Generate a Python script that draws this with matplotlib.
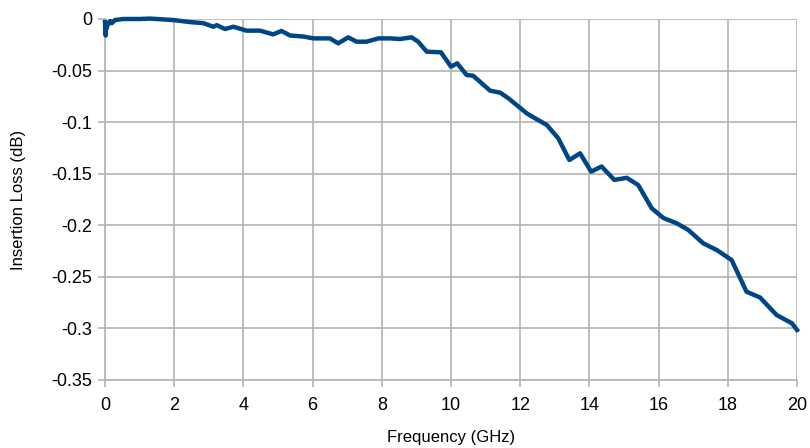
import matplotlib
matplotlib.use("Agg")
import matplotlib.pyplot as plt

# Insertion loss vs. frequency
freq_ghz = [0.0, 0.01, 0.02, 0.03, 0.05, 0.08, 0.1, 0.15, 0.2, 0.29, 0.53, 1.0, 1.3,
            1.97, 2.46, 2.84, 3.13, 3.23, 3.47, 3.71, 4.09, 4.48, 4.86, 5.1,
            5.35, 5.73, 6.02, 6.5, 6.74, 7.03, 7.27, 7.56, 7.9, 8.24, 8.53,
            8.86, 9.05, 9.3, 9.71, 10.0, 10.18, 10.45, 10.64, 11.13, 11.42,
            11.66, 12.19, 12.38, 12.77, 13.1, 13.42, 13.73, 14.05, 14.35,
            14.72, 15.08, 15.41, 15.8, 16.14, 16.52, 16.86, 17.29, 17.68,
            18.11, 18.54, 18.93, 19.41, 19.85, 20.0]
loss_db = [-0.003, -0.012, -0.016, -0.006, -0.009, -0.004, -0.005, -0.002, -0.004, -0.001,
           0.0, 0.0, 0.0004, -0.001, -0.003, -0.004, -0.0075, -0.006, -0.0097,
           -0.0075, -0.0113, -0.0113, -0.0149, -0.0116, -0.016, -0.017,
           -0.0188, -0.0188, -0.0236, -0.0178, -0.022, -0.022, -0.0188,
           -0.0188, -0.0194, -0.0178, -0.022, -0.0317, -0.0323, -0.0462,
           -0.043, -0.0543, -0.055, -0.0695, -0.0714, -0.0769, -0.0915,
           -0.0953, -0.1028, -0.1157, -0.1367, -0.1302, -0.148, -0.143,
           -0.156, -0.154, -0.161, -0.1835, -0.193, -0.198, -0.2046, -0.2175,
           -0.224, -0.2337, -0.2644, -0.270, -0.287, -0.295, -0.3015]

x_ticks = [0, 2, 4, 6, 8, 10, 12, 14, 16, 18, 20]
y_ticks = [0, -0.05, -0.1, -0.15, -0.2, -0.25, -0.3, -0.35]
y_labels = ["0", "-0.05", "-0.1", "-0.15", "-0.2", "-0.25", "-0.3", "-0.35"]

plt.rcParams["font.family"] = ["Liberation Sans", "DejaVu Sans"]

fig = plt.figure(figsize=(8.1, 4.48), dpi=100)
ax = fig.add_axes([0.1296, 0.1518, 0.984 - 0.1296, 0.9576 - 0.1518])

grid_col = "#b3b3b3"
ax.plot(freq_ghz, loss_db, color="#004586", linewidth=3.2, solid_joinstyle="round",
        clip_on=False, zorder=3)

ax.set_xlim(0, 20)
ax.set_ylim(-0.35, 0)
ax.set_xticks(x_ticks)
ax.set_yticks(y_ticks)
ax.set_yticklabels(y_labels)
ax.grid(True, color=grid_col, linewidth=1.2)
ax.set_axisbelow(True)

for side in ["top", "right"]:
    ax.spines[side].set_visible(False)
for side in ["left", "bottom"]:
    ax.spines[side].set_color(grid_col)
    ax.spines[side].set_linewidth(1.2)

ax.tick_params(axis="both", colors=grid_col, length=5, width=1.2, labelcolor="black",
               labelsize=13)
ax.tick_params(axis="x", pad=7)
ax.tick_params(axis="y", pad=4)

ax.set_xlabel("Frequency (GHz)", fontsize=12, labelpad=12)
ax.set_ylabel("Insertion Loss (dB)", fontsize=12, labelpad=18)

fig.savefig("out.png", dpi=100)
